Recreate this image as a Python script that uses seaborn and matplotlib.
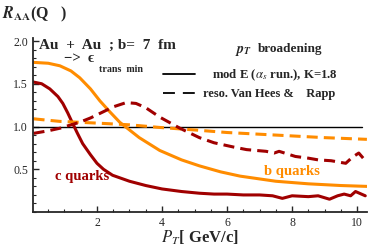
import numpy as np
import pandas as pd
import seaborn as sns
import matplotlib.pyplot as plt
from matplotlib.ticker import MultipleLocator

sns.set_style('ticks')
plt.rcParams['font.family'] = ['Liberation Serif', 'DejaVu Serif']
plt.rcParams['mathtext.fontset'] = 'stix'

# b quarks, mod E (solid)
b_pt = [0.05, 0.5, 0.86, 1.2, 1.47, 1.8, 2.09, 2.4, 2.7, 2.9, 3.3, 3.93, 4.6, 5.15, 5.8, 6.4,
        7.5, 8.5, 9.5, 10.3]
b_raa = [1.75, 1.74, 1.71, 1.65, 1.57, 1.44, 1.30, 1.17, 1.05, 0.99, 0.87, 0.72, 0.61, 0.54,
         0.47, 0.42, 0.36, 0.33, 0.31, 0.30]

# c quarks, mod E (solid)
c_pt = [0.05, 0.3, 0.55, 0.8, 0.95, 1.1, 1.26, 1.4, 1.56, 1.8, 2.0, 2.2, 2.48, 3.0, 3.5, 4.0,
        4.6, 5.15, 5.6, 6.0, 6.5, 7.0, 7.4, 7.7, 8.0, 8.5, 8.8, 9.15, 9.4, 9.6, 9.8, 9.95, 10.25]
c_raa = [1.52, 1.50, 1.44, 1.35, 1.27, 1.16, 1.03, 0.92, 0.80, 0.67, 0.57, 0.50, 0.43, 0.36,
         0.31, 0.27, 0.24, 0.22, 0.21, 0.21, 0.20, 0.20, 0.19, 0.16, 0.19, 0.18, 0.19, 0.15,
         0.19, 0.21, 0.19, 0.24, 0.19]

# b quarks, reso. Van Hees & Rapp (dashed)
bres_pt = [0.05, 0.86, 2.0, 3.0, 3.9, 5.0, 6.0, 7.0, 8.0, 9.0, 10.3]
bres_raa = [1.09, 1.06, 1.04, 1.02, 0.99, 0.96, 0.93, 0.91, 0.89, 0.87, 0.85]

# c quarks, reso. Van Hees & Rapp (dashed)
cres_pt = [0.05, 0.5, 0.86, 1.47, 1.8, 2.18, 2.5, 2.9, 3.2, 3.5, 3.93, 4.55, 5.15, 5.6, 6.2,
           6.6, 7.2, 7.45, 7.6, 8.1, 8.5, 8.8, 9.2, 9.65, 9.85, 10.05, 10.3]
cres_raa = [0.92, 0.95, 0.98, 1.05, 1.10, 1.17, 1.23, 1.28, 1.27, 1.22, 1.11, 0.98, 0.87, 0.81,
            0.76, 0.73, 0.71, 0.69, 0.71, 0.65, 0.63, 0.61, 0.60, 0.57, 0.64, 0.69, 0.58]

orange = '#ff8c00'
dred = '#a00000'
dash = (0, (3.6, 2))

fig = plt.figure(figsize=(3.74, 2.48), dpi=100)
ax = fig.add_axes([0.088, 0.145, 0.893, 0.70])

ax.axhline(1.0, color='black', lw=1.0, xmax=0.985)
sns.lineplot(x=b_pt, y=b_raa, ax=ax, color=orange, lw=2.2)
sns.lineplot(x=c_pt, y=c_raa, ax=ax, color=dred, lw=2.2)
sns.lineplot(x=bres_pt, y=bres_raa, ax=ax, color=orange, lw=2.2, linestyle=dash)
sns.lineplot(x=cres_pt, y=cres_raa, ax=ax, color=dred, lw=2.2, linestyle=dash)

ax.set_xlim(0.03, 10.3)
ax.set_ylim(0.0, 2.03)
ax.set_xticks([2, 4, 6, 8, 10])
ax.set_yticks([0.5, 1.0, 1.5, 2.0])
ax.set_yticklabels(['0.5', '1.0', '1.5', '2.0'])
ax.xaxis.set_minor_locator(MultipleLocator(0.5))
ax.yaxis.set_minor_locator(MultipleLocator(0.1))
ax.tick_params(direction='in', labelsize=8.5, length=4, width=1)
ax.tick_params(which='minor', direction='in', length=2, width=0.8)
sns.despine(ax=ax)
for s in ['left', 'bottom']:
    ax.spines[s].set_linewidth(1.3)

ax.set_xlabel(r'$\boldsymbol{P_T}$[ GeV/c]', fontsize=12, fontweight='bold', labelpad=0)

fig.text(0.005, 0.925, r'$\boldsymbol{R}_{\mathbf{AA}}$(Q   )', fontsize=11.5, fontweight='bold')
fig.text(0.105, 0.805, 'Au  +  Au  ; b=  7  fm', fontsize=11, fontweight='bold')
fig.text(0.17, 0.752, '−>  ϵ', fontsize=10.5, fontweight='bold')
fig.text(0.265, 0.708, 'trans  min', fontsize=7.2, fontweight='bold')
fig.text(0.628, 0.785, r'$\boldsymbol{p}_{\boldsymbol{T}}$', fontsize=10)
fig.text(0.69, 0.79, 'broadening', fontsize=9.5, fontweight='bold')

fig.add_artist(plt.Line2D([0.437, 0.522], [0.70, 0.70], color='black', lw=1.3))
fig.add_artist(plt.Line2D([0.437, 0.522], [0.627, 0.627], color='black', lw=1.3,
                          linestyle=(0, (6.6, 4.4))))
fig.text(0.567, 0.683, r'mod E ($\alpha_s$ run.), K=1.8', fontsize=9.2, fontweight='bold')
fig.text(0.543, 0.61, 'reso. Van Hees &    Rapp', fontsize=9, fontweight='bold')

ax.text(0.7, 0.38, 'c quarks', color=dred, fontsize=10.5, fontweight='bold')
ax.text(7.15, 0.43, 'b quarks', color=orange, fontsize=10.5, fontweight='bold')

fig.savefig('out.png', dpi=100)
